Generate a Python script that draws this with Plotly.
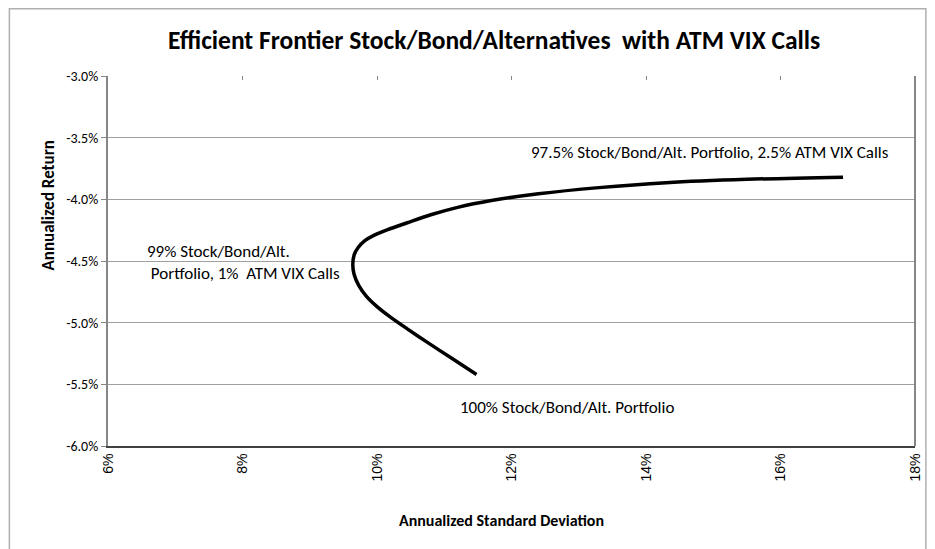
import plotly.graph_objects as go

# Data (annualized std dev %, annualized return %)
std_dev = [11.48, 11.10, 10.75, 10.45, 10.20, 10.00, 9.84, 9.73, 9.66, 9.64, 9.66, 9.72, 9.82, 9.96,
           10.16, 10.45, 10.80, 11.20, 11.70, 12.40, 13.30, 14.30, 15.50, 16.93]
ann_return = [-5.42, -5.285, -5.16, -5.05, -4.955, -4.87, -4.785, -4.70, -4.61, -4.53, -4.45, -4.39, -4.335, -4.29,
              -4.245, -4.19, -4.125, -4.065, -4.01, -3.955, -3.905, -3.865, -3.838, -3.82]

x_tick_vals = [6, 8, 10, 12, 14, 16, 18]
x_tick_text = ["6%", "8%", "10%", "12%", "14%", "16%", "18%"]
y_tick_vals = [-6.0, -5.5, -5.0, -4.5, -4.0, -3.5, -3.0]
y_tick_text = ["-6.0%", "-5.5%", "-5.0%", "-4.5%", "-4.0%", "-3.5%", "-3.0%"]

title_text = "Efficient Frontier Stock/Bond/Alternatives  with ATM VIX Calls"
label_top = "97.5% Stock/Bond/Alt. Portfolio, 2.5% ATM VIX Calls"
label_mid = "99% Stock/Bond/Alt.<br> Portfolio, 1%  ATM VIX Calls"
label_bottom = "100% Stock/Bond/Alt. Portfolio"

CAL = "Carlito, Lato, sans-serif"

fig = go.Figure()
fig.add_trace(go.Scatter(
    x=std_dev, y=ann_return, mode="lines",
    line=dict(color="black", width=3.5, shape="spline", smoothing=0.8),
    showlegend=False, hoverinfo="skip",
))
# invisible trace for top axis ticks
fig.add_trace(go.Scatter(x=[6, 18], y=[-3, -3], xaxis="x2", mode="lines",
                         line=dict(width=0), showlegend=False, hoverinfo="skip"))

fig.update_layout(
    width=927, height=541,
    margin=dict(l=100, r=13, t=68, b=103),
    paper_bgcolor="white", plot_bgcolor="white",
    font=dict(family=CAL, color="black"),
    xaxis=dict(
        range=[6, 18], tickvals=x_tick_vals, ticktext=x_tick_text,
        tickangle=-90, tickfont=dict(family="Liberation Sans, Arial", size=14, color="black"),
        showgrid=False, zeroline=False,
        showline=True, linecolor="#404040", linewidth=2, ticks="", ticklen=0,
    ),
    xaxis2=dict(
        range=[6, 18], overlaying="x", side="top", tickvals=x_tick_vals,
        showticklabels=False, ticks="inside", ticklen=4, tickcolor="#868686",
        showgrid=False, zeroline=False, showline=False,
    ),
    yaxis=dict(
        range=[-6.0, -3.0], tickvals=y_tick_vals, ticktext=y_tick_text,
        tickfont=dict(family=CAL, size=14, color="black"),
        showgrid=True, gridcolor="#a0a0a0", gridwidth=1, zeroline=False,
        showline=True, linecolor="#868686", linewidth=2,
        ticks="outside", ticklen=5, tickcolor="#868686",
    ),
    shapes=[
        dict(type="line", xref="paper", yref="paper", x0=1, x1=1, y0=0, y1=1,
             line=dict(color="#868686", width=2)),
        dict(type="rect", xref="paper", yref="paper", x0=-0.1222, x1=1.0135, y0=-0.35, y1=1.182,
             line=dict(color="#b0b0b0", width=1.5), fillcolor="rgba(0,0,0,0)", layer="below"),
    ],
    annotations=[
        dict(text="<b>" + title_text + "</b>", xref="paper", yref="paper",
             x=(497 - 108) / 814, y=(446 - 40) / 370, xanchor="center", yanchor="middle",
             showarrow=False, font=dict(family=CAL, size=25.5, color="black")),
        dict(text="<b>Annualized Return</b>", xref="paper", yref="paper",
             x=(47 - 108) / 814, y=(446 - 206) / 370, textangle=-90,
             xanchor="center", yanchor="middle", showarrow=False,
             font=dict(family=CAL, size=17, color="black")),
        dict(text="<b>Annualized Standard Deviation</b>", xref="paper", yref="paper",
             x=(505 - 108) / 814, y=(446 - 520) / 370, xanchor="center", yanchor="middle",
             showarrow=False, font=dict(family=CAL, size=16, color="black")),
        dict(text=label_top, x=14.95, y=-3.624, xanchor="center", yanchor="middle",
             showarrow=False, font=dict(family=CAL, size=17, color="black")),
        dict(text=label_mid, x=6.545, y=-4.516, xanchor="left", yanchor="middle", align="left",
             showarrow=False, font=dict(family=CAL, size=17, color="black")),
        dict(text=label_bottom, x=12.83, y=-5.69, xanchor="center", yanchor="middle",
             showarrow=False, font=dict(family=CAL, size=17, color="black")),
    ],
)

fig.write_html("out.html")
